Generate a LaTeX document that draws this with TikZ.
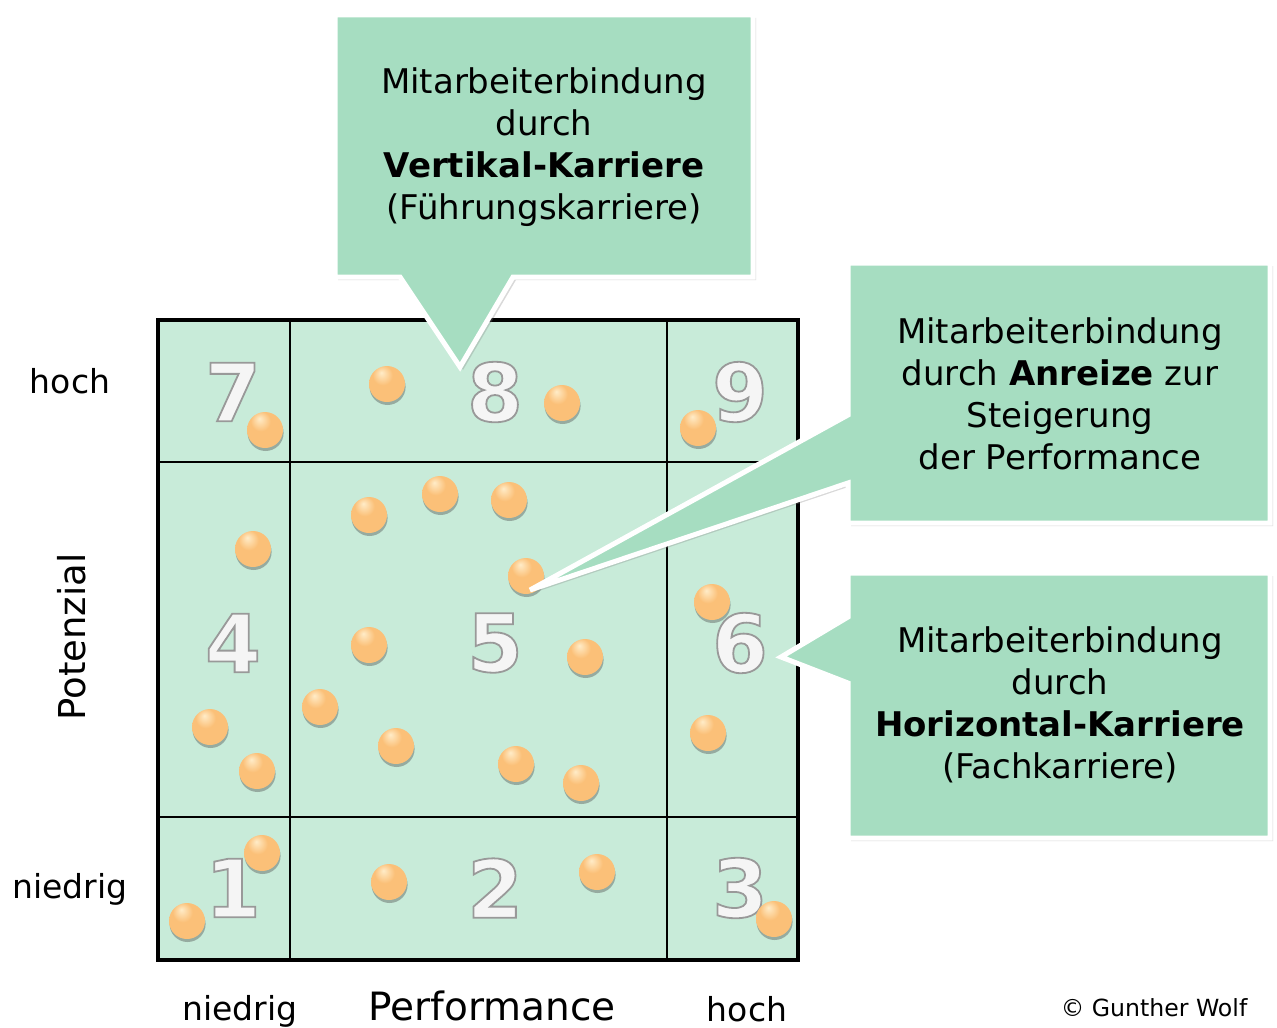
\documentclass[tikz,border=0pt]{standalone}
\usepackage{fontspec}
\setmainfont{DejaVu Sans}
\usetikzlibrary{shadows, positioning}

\definecolor{cellgreen}{RGB}{200,235,217}
\definecolor{boxgreen}{RGB}{166,221,193}
\definecolor{ballhi}{RGB}{255,236,200}
\definecolor{ballorange}{RGB}{251,192,120}
\definecolor{balledge}{RGB}{215,140,70}
\pgfdeclareradialshading{orangeball}{\pgfpoint{-8bp}{16bp}}{%
    color(0bp)=(ballhi); color(14bp)=(ballorange); color(40bp)=(ballorange);
    color(52bp)=(balledge); color(60bp)=(balledge)}
% outlined digit: filled light, stroked grey
\newcommand\outlined[1]{\special{pdf:literal direct 0.6 G 0.9 w 2 Tr}#1\special{pdf:literal direct 0 Tr}}

\begin{document}
\begin{tikzpicture}[x=0.5pt, y=-0.5pt,
    ball/.style={circle, minimum size=18pt, inner sep=0pt, shading=orangeball,
      drop shadow={opacity=0.4, shadow xshift=0.3pt, shadow yshift=-1.5pt, fill=black!70}},
    bubble/.style={fill=boxgreen, draw=white, line width=2.5pt, line join=miter,
      drop shadow={opacity=0.3, shadow xshift=1.5pt, shadow yshift=-1.5pt}},
    bubbletext/.style={align=center, font=\fontsize{17pt}{21pt}\selectfont},
    axislabel/.style={anchor=base, font=\fontsize{16.5pt}{20pt}\selectfont},
    cellnum/.style={font=\fontsize{40pt}{40pt}\selectfont\bfseries, text=gray!8, inner sep=0pt}]
    \useasboundingbox (0,0) rectangle (1277,1027);

    % portfolio grid
    \fill[cellgreen] (158,320) rectangle (798,960);
    \draw[line width=1pt] (290,320) -- (290,960) (667,320) -- (667,960)
        (158,462) -- (798,462) (158,817) -- (798,817);
    \draw[line width=1.8pt] (158,320) rectangle (798,960);

    % cell numbers
    \foreach \x/\y/\n in {233/392/7, 495/392/8, 740/392/9, 233/643/4, 495/643/5,
                          740/643/6, 233/888/1, 495/888/2, 740/888/3}
        \node[cellnum] (n\n) at (\x,\y) {\outlined{\n}};

    % employees
    \foreach \x/\y [count=\i] in {265/430, 387/384, 562/403, 698/428,
        369/515, 440/494, 509/500, 526/576, 369/645, 585/657, 320/707,
        396/746, 516/764, 581/783, 253/549, 210/727, 257/771,
        712/602, 708/733, 262/853, 187/921, 389/882, 597/872, 774/919}
        \node[ball] (b\i) at (\x,\y) {};

    % callouts
    \coordinate (tipV) at (460,367);
    \coordinate (tipA) at (530,590);
    \coordinate (tipH) at (781,657);
    \draw[bubble] (335,15) -- (753,15) -- (753,277) -- (513,277) -- (tipV)
        -- (400,277) -- (335,277) -- cycle;
    \draw[bubble] (848,263) -- (1270,263) -- (1270,523) -- (848,523) -- (848,483)
        -- (tipA) -- (848,415) -- cycle;
    \draw[bubble] (848,573) -- (1270,573) -- (1270,838) -- (848,838) -- (848,683)
        -- (tipH) -- (848,617) -- cycle;

    \node[bubbletext] (vk) at (544,147)
        {Mitarbeiterbindung\\durch\\\textbf{Vertikal-Karriere}\\(Führungskarriere)};
    \node[bubbletext] (ar) at (1060,394)
        {Mitarbeiterbindung\\durch \textbf{Anreize} zur\\Steigerung\\der Performance};
    \node[bubbletext] (hk) at (1060,705)
        {Mitarbeiterbindung\\durch\\\textbf{Horizontal-Karriere}\\(Fachkarriere)};

    % axes
    \node[axislabel] (yhi) at (70,393) {hoch};
    \node[axislabel] (ylo) at (70,898) {niedrig};
    \node[rotate=90, font=\fontsize{18.5pt}{20pt}\selectfont] (ylab) at (72,637) {Potenzial};
    \node[axislabel] (xlo) at (240,1020) {niedrig};
    \node[axislabel, font=\fontsize{19.5pt}{22pt}\selectfont] (xlab) at (492,1020) {Performance};
    \node[axislabel] (xhi) at (747,1021) {hoch};
    \node[anchor=base, font=\fontsize{11.8pt}{14pt}\selectfont] (copy) at (1154,1016) {© Gunther Wolf};
\end{tikzpicture}
\end{document}
